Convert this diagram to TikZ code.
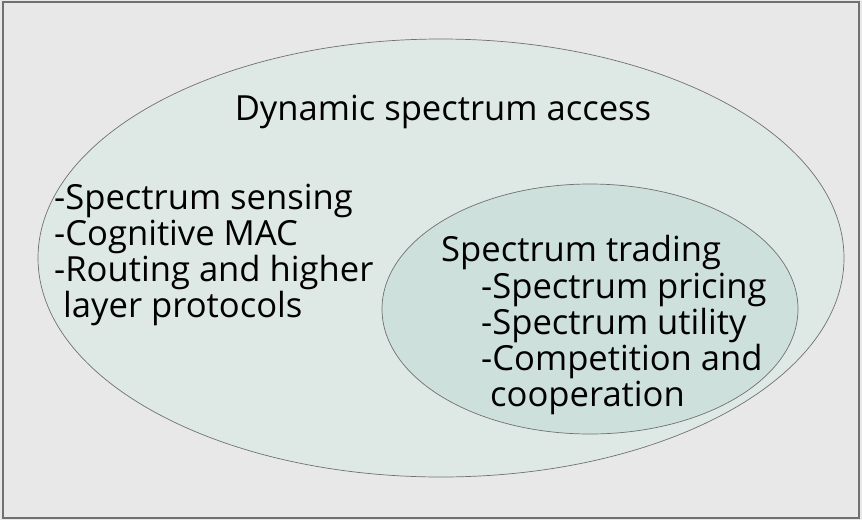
\documentclass[tikz,border=0pt]{standalone}
\usepackage{fontspec}
\setmainfont{Open Sans}
\usetikzlibrary{positioning}
\definecolor{pagegray}{HTML}{E8E8E8}
\definecolor{outerfill}{HTML}{DEE9E6}
\definecolor{innerfill}{HTML}{CEE0DC}
\definecolor{rimgray}{HTML}{707070}

\tikzset{
  txt/.style={inner sep=0pt, align=left, font=\fontsize{34.6}{36}\selectfont},
}

\begin{document}
\begin{tikzpicture}[x=1pt,y=-1pt]
    % page and frame
    \fill [pagegray] (0,0) rectangle (862,520);
    \draw [rimgray, line width=1.2pt] (3,2) rectangle (859,518);
    % the two sets
    \draw [rimgray, fill=outerfill, line width=0.7pt] (441,258) ellipse [x radius=403, y radius=219];
    \draw [rimgray, fill=innerfill, line width=0.7pt] (590,309) ellipse [x radius=208, y radius=125];
    % labels
    \node [txt, anchor=base] (dsa) at (443,120) {Dynamic spectrum access};
    \node [txt, anchor=north west] (lower) at (54,184) {-Spectrum sensing\\-Cognitive MAC\\-Routing and higher\\\ layer protocols};
    \node [txt, anchor=north west] (trade) at (441,235) {Spectrum trading};
    \node [txt, below right=3pt and 40pt of trade.south west] (items)
      {-Spectrum pricing\\-Spectrum utility\\-Competition and\\\ cooperation};
\end{tikzpicture}
\end{document}
